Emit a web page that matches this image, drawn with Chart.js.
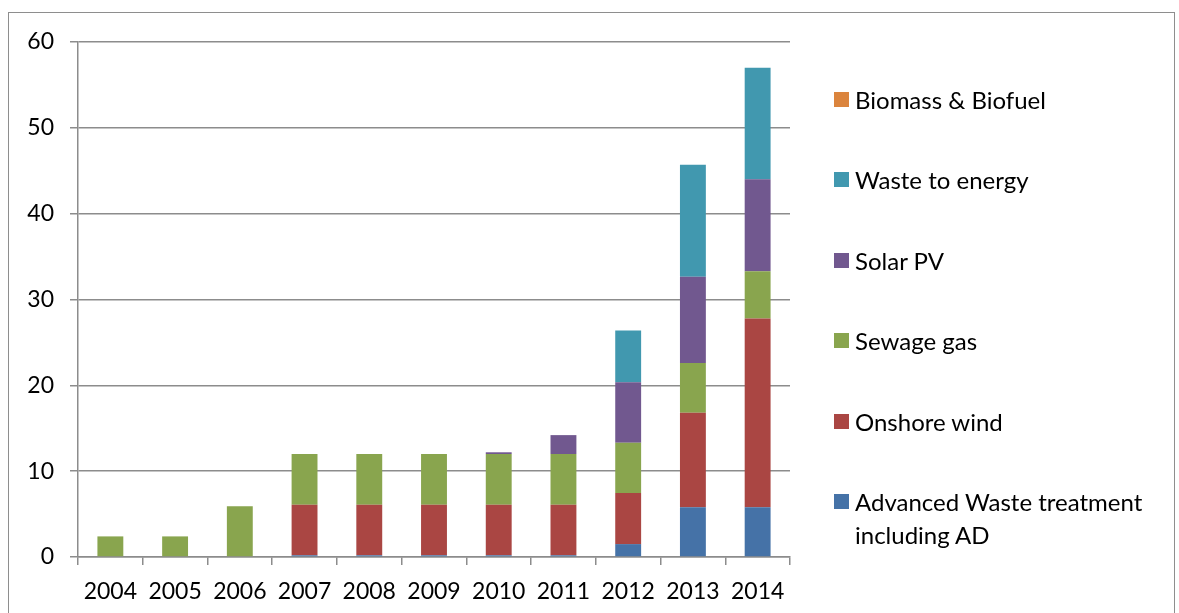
<!DOCTYPE html>
<html>
<head>
<meta charset="utf-8">
<script src="https://cdn.jsdelivr.net/npm/chart.js@4"></script>
<style>
  body { margin: 0; background: #fff; font-family: Lato, sans-serif; }
  #wrap { position: relative; width: 1179px; height: 613px; overflow: hidden; }
  #frame { position: absolute; left: 8px; top: 12px; width: 1165px; height: 640px; border: 1px solid #8e8e8e; }
  #chartBox { position: absolute; left: 0; top: 0; width: 1179px; height: 613px; }
  #legend { position: absolute; left: 834px; top: 83px; margin: 0; padding: 0; list-style: none; }
  #legend li { position: relative; height: 80.4px; padding-left: 21px; font-size: 24px; line-height: 33px; color: #000; white-space: pre; }
  #legend li span { position: absolute; left: 0; top: 9px; width: 15px; height: 15px; }
</style>
</head>
<body>
<div id="wrap">
  <div id="frame"></div>
  <div id="chartBox"><canvas id="chartFuentes"></canvas></div>
  <ul id="legend"></ul>
</div>
<script>
const years = ['2004', '2005', '2006', '2007', '2008', '2009', '2010', '2011', '2012', '2013', '2014'];

const advancedWaste = [0, 0, 0, 0.2, 0.2, 0.2, 0.2, 0.2, 1.5, 5.8, 5.8];
const onshoreWind   = [0, 0, 0, 5.9, 5.9, 5.9, 5.9, 5.9, 5.95, 11.0, 22.0];
const sewageGas     = [2.4, 2.4, 5.9, 5.9, 5.9, 5.9, 5.9, 5.9, 5.85, 5.8, 5.5];
const solarPV       = [0, 0, 0, 0, 0, 0, 0.2, 2.2, 7.05, 10.05, 10.7];
const wasteToEnergy = [0, 0, 0, 0, 0, 0, 0, 0, 6.05, 13.05, 13.0];
const biomass       = [0, 0, 0, 0, 0, 0, 0, 0, 0, 0, 0];

const yTicks = [0, 10, 20, 30, 40, 50, 60];

const ctx = document.getElementById('chartFuentes');

const chart = new Chart(ctx, {
  type: 'bar',
  data: {
    labels: years,
    datasets: [
      { label: 'Advanced Waste treatment\nincluding AD', data: advancedWaste, backgroundColor: '#4572A7' },
      { label: 'Onshore wind', data: onshoreWind, backgroundColor: '#AA4643' },
      { label: 'Sewage gas', data: sewageGas, backgroundColor: '#89A54E' },
      { label: 'Solar PV', data: solarPV, backgroundColor: '#71588F' },
      { label: 'Waste to energy', data: wasteToEnergy, backgroundColor: '#4198AF' },
      { label: 'Biomass & Biofuel', data: biomass, backgroundColor: '#DB843D' }
    ]
  },
  options: {
    responsive: true,
    maintainAspectRatio: false,
    animation: false,
    layout: { padding: { left: 0, top: 42, right: 389, bottom: 0 } },
    datasets: { bar: { barPercentage: 0.8, categoryPercentage: 0.5 } },
    plugins: {
      legend: { display: false },
      tooltip: { enabled: false }
    },
    scales: {
      x: {
        stacked: true,
        grid: { offset: true, drawOnChartArea: false, drawTicks: true, tickLength: 8, color: '#8c8c8c', lineWidth: 1.5 },
        border: { color: '#8c8c8c', width: 1.5 },
        ticks: { color: '#000', padding: 13, font: { family: 'Lato', size: 23 } },
        afterFit: (s) => { s.height = 56; }
      },
      y: {
        stacked: true,
        min: 0,
        max: 60,
        afterBuildTicks: (s) => { s.ticks = yTicks.map(v => ({ value: v })); },
        grid: { color: '#8c8c8c', lineWidth: 1.5, tickLength: 8 },
        border: { color: '#8c8c8c', width: 1.5 },
        ticks: { color: '#000', padding: 16, font: { family: 'Lato', size: 23 } },
        afterFit: (s) => { s.width = 78; }
      }
    }
  }
});

// legend on the right, top item is the last series
const legend = document.getElementById('legend');
chart.data.datasets.slice().reverse().forEach(ds => {
  const li = document.createElement('li');
  const sw = document.createElement('span');
  sw.style.background = ds.backgroundColor;
  li.appendChild(sw);
  li.appendChild(document.createTextNode(ds.label));
  legend.appendChild(li);
});
</script>
</body>
</html>
